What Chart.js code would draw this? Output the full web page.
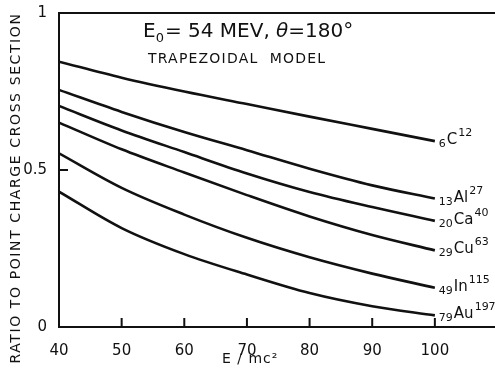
<!DOCTYPE html>
<html>
<head>
<meta charset="utf-8">
<script src="https://cdn.jsdelivr.net/npm/chart.js@4"></script>
<style>
html, body { margin: 0; background: #fff; }
#wrap { width: 495px; height: 371px; }
</style>
</head>
<body>
<div id="wrap"><canvas id="chart"></canvas></div>
<script>
// values, E/mc^2 = 40..100
const energies = [40, 50, 60, 70, 80, 90, 100];
const nuclei = ['C', 'Al', 'Ca', 'Cu', 'In', 'Au'];
const atomicNumbers = [6, 13, 20, 29, 49, 79];
const massNumbers = [12, 27, 40, 63, 115, 197];

const ratioC  = [0.845, 0.794, 0.750, 0.710, 0.670, 0.631, 0.592];
const ratioAl = [0.755, 0.685, 0.621, 0.563, 0.504, 0.451, 0.409];
const ratioCa = [0.704, 0.626, 0.557, 0.489, 0.430, 0.382, 0.338];
const ratioCu = [0.651, 0.566, 0.492, 0.420, 0.352, 0.293, 0.244];
const ratioIn = [0.553, 0.443, 0.358, 0.284, 0.222, 0.170, 0.125];
const ratioAu = [0.431, 0.315, 0.232, 0.167, 0.108, 0.066, 0.037];

const xTicks = [40, 50, 60, 70, 80, 90, 100];
const yTicks = [0, 0.5, 1];
const yTickLabels = ['0', '0.5', '1'];

const INK = '#111';
const FONT = '"DejaVu Sans", sans-serif';

const allRatios = [ratioC, ratioAl, ratioCa, ratioCu, ratioIn, ratioAu];

const datasets = allRatios.map((vals, i) => ({
    label: nuclei[i],
    data: vals.map((v, j) => ({ x: energies[j], y: v })),
    borderColor: INK,
    borderWidth: 2.6,
    pointRadius: 0,
    fill: false,
    cubicInterpolationMode: 'monotone',
}));

// inward tick marks, like the original drawing
const inwardTicks = {
    id: 'inwardTicks',
    afterDatasetsDraw(chart) {
        const c = chart.ctx;
        const area = chart.chartArea;
        c.save();
        c.strokeStyle = INK;
        c.lineWidth = 2;
        c.beginPath();
        xTicks.forEach(v => {
            const px = chart.scales.x.getPixelForValue(v);
            c.moveTo(px, area.bottom);
            c.lineTo(px, area.bottom - 9);
        });
        yTicks.forEach(v => {
            const py = chart.scales.y.getPixelForValue(v);
            c.moveTo(area.left, py);
            c.lineTo(area.left + 9, py);
        });
        c.stroke();
        c.restore();
    }
};

// nucleus names at the end of each curve
const curveLabels = {
    id: 'curveLabels',
    afterDatasetsDraw(chart) {
        const c = chart.ctx;
        c.save();
        c.fillStyle = INK;
        c.textBaseline = 'alphabetic';
        chart.data.datasets.forEach((ds, i) => {
            const meta = chart.getDatasetMeta(i);
            const p = meta.data[meta.data.length - 1];
            let x = p.x + 4;
            c.font = '11px ' + FONT;
            c.fillText(String(atomicNumbers[i]), x, p.y + 6);
            x += c.measureText(String(atomicNumbers[i])).width + 1;
            c.font = '15px ' + FONT;
            c.fillText(nuclei[i], x, p.y + 3);
            x += c.measureText(nuclei[i]).width + 1;
            c.font = '11px ' + FONT;
            c.fillText(String(massNumbers[i]), x, p.y - 5);
        });
        c.restore();
    }
};

// titles drawn by hand so they can sit inside the frame
const texts = {
    id: 'texts',
    afterDraw(chart) {
        const c = chart.ctx;
        c.save();
        c.fillStyle = INK;
        c.textBaseline = 'alphabetic';

        // E0= 54 MEV, theta=180
        let x = 143;
        c.font = '20px ' + FONT;
        c.fillText('E', x, 37);
        x += c.measureText('E').width;
        c.font = '13px ' + FONT;
        c.fillText('0', x, 42);
        x += c.measureText('0').width + 1;
        c.font = '20px ' + FONT;
        c.fillText('= 54 MEV, ', x, 37);
        x += c.measureText('= 54 MEV, ').width;
        c.font = 'italic 20px ' + FONT;
        c.fillText('θ', x, 37);
        x += c.measureText('θ').width;
        c.font = '20px ' + FONT;
        c.fillText('=180°', x, 37);

        c.font = '14px ' + FONT;
        c.letterSpacing = '1.2px';
        c.fillText('TRAPEZOIDAL  MODEL', 148, 63);

        // x axis title
        c.letterSpacing = '1px';
        c.font = '14px ' + FONT;
        c.fillText('E / mc²', 222, 363);

        // y axis title
        c.letterSpacing = '1.6px';
        c.font = '14px ' + FONT;
        c.translate(20, 188);
        c.rotate(-Math.PI / 2);
        c.textAlign = 'center';
        c.fillText('RATIO TO POINT CHARGE CROSS SECTION', 0, 0);
        c.restore();
    }
};

const config = {
    type: 'line',
    data: { datasets: datasets },
    options: {
        responsive: true,
        maintainAspectRatio: false,
        animation: false,
        layout: { padding: 0 },
        plugins: {
            legend: { display: false },
            tooltip: { enabled: false },
        },
        scales: {
            x: {
                type: 'linear',
                min: 40,
                max: 109.6,
                afterFit: s => { s.height = 44; },
                afterBuildTicks: s => { s.ticks = xTicks.map(v => ({ value: v })); },
                grid: { display: false },
                border: { display: true, color: INK, width: 2 },
                ticks: {
                    color: INK,
                    padding: 7,
                    font: { family: FONT, size: 15 },
                    maxRotation: 0,
                }
            },
            xTop: {
                type: 'linear',
                position: 'top',
                min: 40,
                max: 109.6,
                afterFit: s => { s.height = 12; },
                grid: { display: false },
                border: { display: true, color: INK, width: 2 },
                ticks: { display: false }
            },
            y: {
                type: 'linear',
                min: 0,
                max: 1,
                afterFit: s => { s.width = 59; },
                afterBuildTicks: s => { s.ticks = yTicks.map(v => ({ value: v })); },
                grid: { display: false },
                border: { display: true, color: INK, width: 2 },
                ticks: {
                    color: INK,
                    padding: 4,
                    font: { family: FONT, size: 15 },
                    callback: (v) => yTickLabels[yTicks.indexOf(v)]
                }
            }
        }
    },
    plugins: [inwardTicks, curveLabels, texts]
};

const canvasCtx = document.getElementById('chart').getContext('2d');
const ratioChart = new Chart(canvasCtx, config);
</script>
</body>
</html>
